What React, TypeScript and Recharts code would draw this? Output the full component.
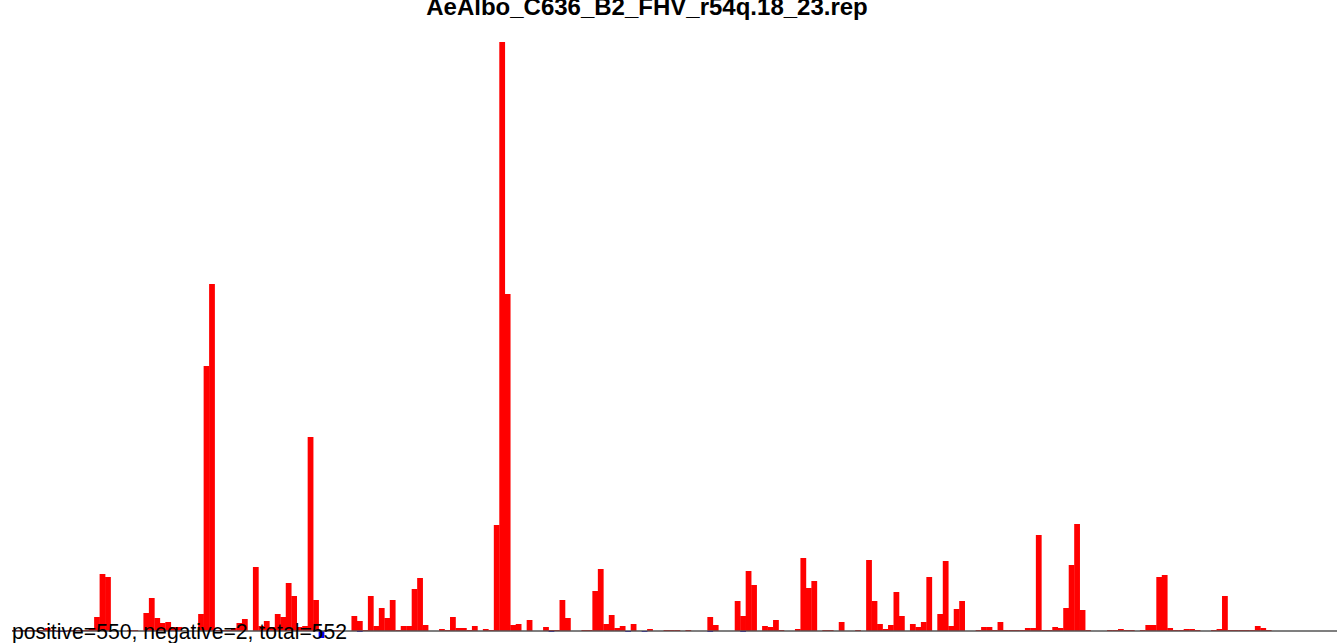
import React from "react"
import { BarChart, Bar, XAxis, YAxis, ReferenceLine } from "recharts"

// one value per bin (bar height in plot units)
const pos = [
  1, 1, 1, 1, 1, 1, 3, 1, 0, 0, 1, 1, 1, 1, 2, 14, 57, 54, 0, 0,
  0, 1, 1, 0, 18, 33, 13, 8, 9, 4, 4, 0, 0, 0, 17, 265, 347, 1, 1, 1,
  3, 8, 12, 0, 64, 5, 10, 4, 17, 14, 48, 35, 4, 5, 194, 31, 0, 1, 1, 1,
  0, 0, 15, 10, 1, 35, 5, 23, 13, 31, 1, 5, 5, 42, 53, 6, 0, 0, 2, 1,
  14, 3, 3, 1, 5, 0, 2, 1, 106, 589, 337, 6, 7, 0, 11, 0, 0, 4, 1, 1,
  31, 13, 0, 0, 1, 1, 40, 62, 7, 16, 3, 5, 0, 7, 0, 0, 2, 0, 0, 1,
  1, 1, 0, 1, 0, 0, 0, 14, 6, 0, 0, 0, 30, 15, 60, 46, 0, 5, 4, 11,
  1, 0, 0, 2, 73, 43, 50, 0, 1, 1, 0, 9, 0, 0, 1, 0, 71, 30, 7, 2,
  6, 39, 15, 0, 7, 4, 9, 54, 0, 17, 70, 5, 22, 30, 0, 0, 1, 4, 4, 1,
  9, 1, 1, 1, 1, 3, 3, 96, 1, 1, 4, 3, 23, 66, 107, 21, 1, 0, 0, 0,
  1, 1, 2, 1, 1, 0, 1, 6, 6, 54, 56, 3, 1, 1, 2, 2, 1, 0, 0, 1,
  2, 35, 1, 1, 1, 1, 1, 5, 3, 1, 0, 0, 0, 0, 0, 0, 0, 0, 0, 0,
  0, 0,
]

// bins with a blue (negative) part below the axis
const negBins = [8, 9, 56, 63, 98, 112, 115, 127, 133]
const negVals = [-1, -1, -7, -1, -1, -1, -1, -1, -1]

const title = "AeAlbo_C636_B2_FHV_r54q.18_23.rep"
const summary = "positive=550, negative=2, total=552"

const data = pos.map((p, i) => {
  const j = negBins.indexOf(i)
  return { bin: i, pos: p, neg: j >= 0 ? negVals[j] : 0 }
})

// recharts floors the bar width, so widen each bar to close the gaps
const BAND = 1325 / pos.length

const binShape = (color: string) => (props: any) => {
  const { x, y, height } = props
  if (!height) return <g />
  const top = Math.min(y, y + height)
  return <rect x={x} y={top} width={BAND + 0.3} height={Math.abs(height)} fill={color} />
}

export default function App() {
  return (
    <div style={{ position: "absolute", left: 0, top: 0, width: 1337, height: 643, background: "#fff" }}>
      <BarChart
        width={1337}
        height={643}
        data={data}
        margin={{ top: 42, right: 0, bottom: 0, left: 12 }}
        barCategoryGap={0}
        barGap={0}
        stackOffset="sign"
      >
        <XAxis dataKey="bin" hide />
        <YAxis hide domain={[-12, 589]} allowDataOverflow />
        <ReferenceLine y={0} stroke="#555" strokeWidth={1.4} />
        <Bar dataKey="pos" stackId="a" fill="#ff0000" shape={binShape("#ff0000")} isAnimationActive={false} />
        <Bar dataKey="neg" stackId="a" fill="#0000ff" shape={binShape("#0000ff")} isAnimationActive={false} />
      </BarChart>
      <svg
        width={1337}
        height={643}
        style={{ position: "absolute", left: 0, top: 0, pointerEvents: "none" }}
      >
        <text
          x={647}
          y={15}
          textAnchor="middle"
          fontFamily="Liberation Sans, Arial, sans-serif"
          fontWeight="bold"
          fontSize={24}
          fill="#000"
        >
          {title}
        </text>
        <text x={12} y={639} fontFamily="Liberation Sans, Arial, sans-serif" fontSize={21.2} fill="#000">
          {summary}
        </text>
      </svg>
    </div>
  )
}
